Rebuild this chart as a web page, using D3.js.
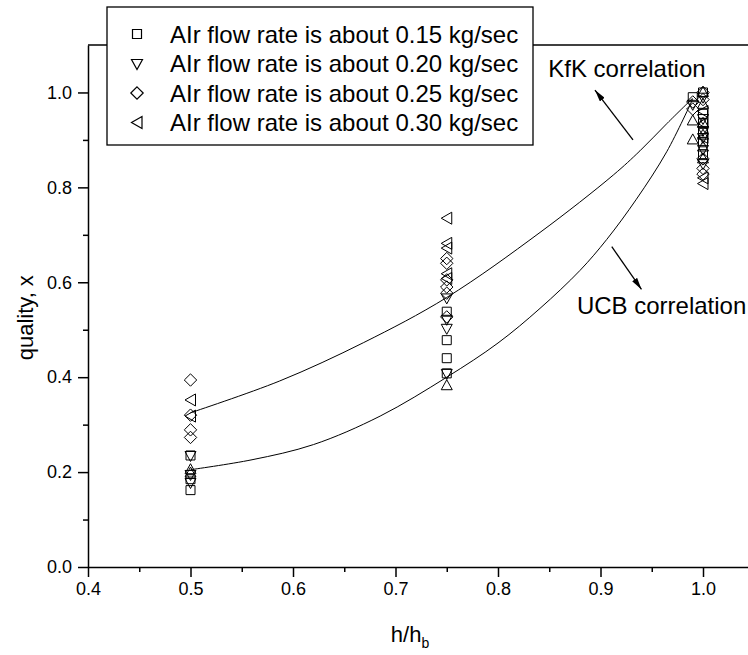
<!DOCTYPE html>
<html><head><meta charset="utf-8">
<script src="https://cdn.jsdelivr.net/npm/d3@7"></script>
<style>
body{margin:0;background:#fff}
svg{display:block}
text{font-family:"Liberation Sans",Arial,Helvetica,sans-serif;fill:#000}
</style>
</head><body>
<svg id="c" width="748" height="655"></svg>
<script>
// ---- tick values ----
const xMajor = [0.4, 0.5, 0.6, 0.7, 0.8, 0.9, 1.0];
const xMinor = [0.45, 0.55, 0.65, 0.75, 0.85, 0.95];
const yMajor = [0.0, 0.2, 0.4, 0.6, 0.8, 1.0];
const yMinor = [0.1, 0.3, 0.5, 0.7, 0.9];

// ---- legend labels ----
const legendLabels = [
  "AIr flow rate is about 0.15 kg/sec",
  "AIr flow rate is about 0.20 kg/sec",
  "AIr flow rate is about 0.25 kg/sec",
  "AIr flow rate is about 0.30 kg/sec"
];

// ---- measured data [h/hb, quality] ----
const flow015 = [[0.5,0.235],[0.5,0.185],[0.5,0.162],
  [0.75,0.538],[0.75,0.478],[0.75,0.440],[0.75,0.408],
  [0.99,0.990],[1.0,1.0],[1.0,0.955],[1.0,0.935],[1.0,0.915],[1.0,0.895],[1.0,0.870]];
const flow020 = [[0.5,0.235],[0.5,0.195],[0.5,0.178],
  [0.75,0.567],[0.75,0.522],[0.75,0.503],[0.75,0.408],
  [0.99,0.975],[1.0,0.990],[1.0,0.945],[1.0,0.920],[1.0,0.905],[1.0,0.880],[1.0,0.850]];
const flow025 = [[0.5,0.394],[0.5,0.320],[0.5,0.289],[0.5,0.273],
  [0.75,0.650],[0.75,0.640],[0.75,0.605],[0.75,0.590],[0.75,0.577],[0.75,0.527],
  [0.99,0.980],[0.99,0.965],[1.0,1.0],[1.0,0.985],[1.0,0.860],[1.0,0.840],[1.0,0.828]];
const flow030 = [[0.5,0.352],[0.5,0.318],
  [0.75,0.735],[0.75,0.682],[0.75,0.672],[0.75,0.618],[0.75,0.608],
  [1.0,0.960],[1.0,0.935],[1.0,0.905],[1.0,0.820],[1.0,0.808]];
const flowOther = [[0.5,0.205],[0.5,0.198],[0.75,0.382],
  [0.99,0.940],[0.99,0.900],[1.0,1.0],[1.0,0.975],[1.0,0.935],[1.0,0.910],[1.0,0.885],[1.0,0.860]];

// ---- correlation curves ----
const kfkCurve = [[0.5,0.325],[0.587,0.392],[0.669,0.473],[0.75,0.568],[0.841,0.705],[0.9125,0.826],[0.9385,0.877],[0.965,0.935],[0.99,0.988]];
const ucbCurve = [[0.5,0.205],[0.56,0.226],[0.62,0.258],[0.685,0.318],[0.75,0.400],[0.80,0.472],[0.841,0.545],[0.88,0.625],[0.906,0.690],[0.935,0.775],[0.9646,0.875],[0.99,0.986]];

// ---- layout ----
const svg = d3.select("#c");
const x = d3.scaleLinear().domain([0.4, 1.05]).range([88, 754.25]);
const y = d3.scaleLinear().domain([0, 1.1]).range([567, 45]);

const shapes = {
  square: "M-4.5,-4.5h9v9h-9Z",
  down: "M-5.5,-4L5.5,-4L0,6Z",
  diamond: "M0,-6.2L6.2,0L0,6.2L-6.2,0Z",
  left: "M5,-6L5,6L-5.5,0Z",
  up: "M-5.5,4L5.5,4L0,-6Z"
};
const series = [
  {data: flow015, shape: "square"},
  {data: flow020, shape: "down"},
  {data: flow025, shape: "diamond"},
  {data: flow030, shape: "left"},
  {data: flowOther, shape: "up"}
];

// top frame line
svg.append("line").attr("x1", x(0.4)).attr("x2", x(1.05)).attr("y1", y(1.1)).attr("y2", y(1.1))
  .attr("stroke", "#000").attr("stroke-width", 1.5);

// axes
const fmt = d3.format(".1f");
const gx = svg.append("g").attr("transform", `translate(0,${y(0)})`)
  .call(d3.axisBottom(x).tickValues(xMajor).tickFormat(fmt).tickSize(10).tickSizeOuter(0).tickPadding(5));
const gxm = svg.append("g").attr("transform", `translate(0,${y(0)})`)
  .call(d3.axisBottom(x).tickValues(xMinor).tickFormat("").tickSize(5).tickSizeOuter(0));
const gy = svg.append("g").attr("transform", `translate(${x(0.4)},0)`)
  .call(d3.axisLeft(y).tickValues(yMajor).tickFormat(fmt).tickSize(10).tickSizeOuter(0).tickPadding(6));
const gym = svg.append("g").attr("transform", `translate(${x(0.4)},0)`)
  .call(d3.axisLeft(y).tickValues(yMinor).tickFormat("").tickSize(5).tickSizeOuter(0));
[gx, gxm, gy, gym].forEach(g => {
  g.selectAll("path.domain").attr("stroke", "#000").attr("stroke-width", 1.5);
  g.selectAll(".tick line").attr("stroke", "#000").attr("stroke-width", 1.5);
  g.selectAll(".tick text").attr("font-size", 18).attr("font-family", '"Liberation Sans",Arial,sans-serif').attr("fill", "#000");
});
gxm.select("path.domain").remove();
gym.select("path.domain").remove();

// axis titles
svg.append("text").attr("transform", `translate(33,${(y(0.6)+y(0.4))/2 - 12}) rotate(-90)`)
  .attr("text-anchor", "middle").attr("font-size", 22).text("quality, x");
const xt = svg.append("text").attr("x", 410).attr("y", 642).attr("text-anchor", "middle").attr("font-size", 22);
xt.append("tspan").text("h/h");
xt.append("tspan").attr("font-size", 14).attr("dy", 6).text("b");

// curves
const line = d3.line().x(d => x(d[0])).y(d => y(d[1])).curve(d3.curveCatmullRom.alpha(0.5));
[kfkCurve, ucbCurve].forEach(c => {
  svg.append("path").attr("d", line(c)).attr("fill", "none").attr("stroke", "#000").attr("stroke-width", 1);
});

// points
series.forEach(s => {
  svg.append("g").selectAll("path").data(s.data).join("path")
    .attr("d", shapes[s.shape])
    .attr("transform", d => `translate(${x(d[0])},${y(d[1])})`)
    .attr("fill", "none").attr("stroke", "#000").attr("stroke-width", 1);
});

// arrows
const defs = svg.append("defs");
defs.append("marker").attr("id", "ah").attr("viewBox", "0 0 12 6").attr("refX", 12).attr("refY", 3)
  .attr("markerWidth", 12).attr("markerHeight", 6).attr("markerUnits", "userSpaceOnUse").attr("orient", "auto")
  .append("path").attr("d", "M0,0L12,3L0,6Z").attr("fill", "#000");
const arrows = [
  {from: [0.9317, 0.900], to: [0.8946, 1.005]},
  {from: [0.911, 0.675], to: [0.940, 0.585]}
];
arrows.forEach(a => {
  svg.append("line").attr("x1", x(a.from[0])).attr("y1", y(a.from[1]))
    .attr("x2", x(a.to[0])).attr("y2", y(a.to[1]))
    .attr("stroke", "#000").attr("stroke-width", 1.3).attr("marker-end", "url(#ah)");
});
svg.append("text").attr("x", x(0.849)).attr("y", y(1.033)).attr("font-size", 24).text("KfK correlation");
svg.append("text").attr("x", x(0.877)).attr("y", y(0.533)).attr("font-size", 24).text("UCB correlation");

// legend
const lg = svg.append("g");
lg.append("rect").attr("x", 107).attr("y", 7).attr("width", 426).attr("height", 138)
  .attr("fill", "#fff").attr("stroke", "#000").attr("stroke-width", 1.3);
const legShapes = ["square", "down", "diamond", "left"];
legendLabels.forEach((t, i) => {
  const cy = 34 + i * 29.5;
  lg.append("path").attr("d", shapes[legShapes[i]]).attr("transform", `translate(137,${cy})`)
    .attr("fill", "none").attr("stroke", "#000").attr("stroke-width", 1.2);
  lg.append("text").attr("x", 170).attr("y", cy + 8.5).attr("font-size", 24).text(t);
});
</script>
</body></html>
